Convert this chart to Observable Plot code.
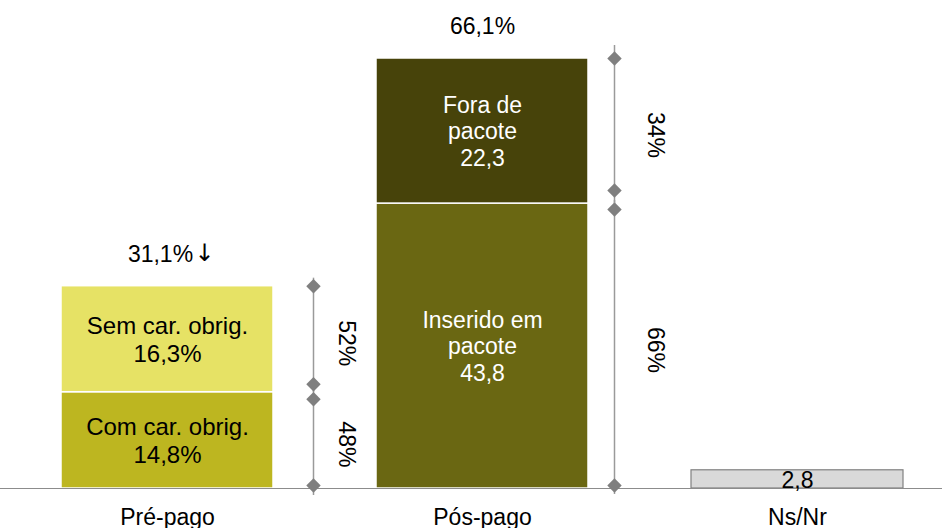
<!DOCTYPE html>
<html>
<head>
<meta charset="utf-8">
<script src="https://cdn.jsdelivr.net/npm/d3@7"></script>
<script src="https://cdn.jsdelivr.net/npm/@observablehq/plot@0.6"></script>
<style>
  html, body { margin: 0; padding: 0; background: #fff; }
  #chart { width: 942px; height: 528px; }
</style>
</head>
<body>
<div id="chart"></div>
<script>
// Plan types, stacked shares (%)
const categories = ["Pré-pago", "Pós-pago", "Ns/Nr"];

const segmentNames = ["Com car. obrig.", "Sem car. obrig.", "Inserido em pacote", "Fora de pacote", "Ns/Nr"];
const segmentCategory = ["Pré-pago", "Pré-pago", "Pós-pago", "Pós-pago", "Ns/Nr"];
const segmentValues = [14.8, 16.3, 43.8, 22.3, 2.8];
const segmentLabels = ["Com car. obrig.\n14,8%", "Sem car. obrig.\n16,3%", "Inserido em\npacote\n43,8", "Fora de\npacote\n22,3", "2,8"];
const segmentColors = ["#bdb620", "#e6e265", "#6a6712", "#47430a", "#d9d9d9"];
const segmentTextColors = ["#000", "#000", "#fff", "#fff", "#000"];

// Share of each segment within its plan type
const shareLabels = ["48%", "52%", "66%", "34%", null];

const totalCategories = ["Pré-pago", "Pós-pago"];
const totalValues = [31.1, 66.1];
const totalLabels = ["31,1%", "66,1%"];
const totalTrends = ["↓", ""];

// Build stacked rows (y1, y2) per category
const offsets = new Map();
const rows = segmentNames.map((name, i) => {
  const cat = segmentCategory[i];
  const y1 = offsets.get(cat) ?? 0;
  const y2 = y1 + segmentValues[i];
  offsets.set(cat, y2);
  return {
    name, category: cat, value: segmentValues[i], y1, y2, mid: (y1 + y2) / 2,
    label: segmentLabels[i], color: segmentColors[i], textColor: segmentTextColors[i],
    share: shareLabels[i]
  };
});
const stackTop = offsets;
const totals = totalCategories.map((c, i) => ({category: c, value: totalValues[i], label: totalLabels[i], trend: totalTrends[i]}));

const font = "'Liberation Sans', Arial, Helvetica, sans-serif";
const fs = 23;

// Bracket beside each stacked bar: line offset, label offset, gaps at the inner joint
const bracketSpecs = [
  {cat: "Pré-pago", dxLine: 146, dxText: 179, gapAbove: 8, gapBelow: 7, labelDy: 4},
  {cat: "Pós-pago", dxLine: 132, dxText: 173, gapAbove: 13, gapBelow: 6, labelDy: 4}
];
const bracketMarks = bracketSpecs.flatMap(({cat, dxLine, dxText, gapAbove, gapBelow, labelDy}) => {
  const d = rows.filter(r => r.category === cat);
  return d.flatMap(r => {
    const isTop = r.y2 === stackTop.get(cat);
    const isBottom = r.y1 === 0;
    const topInset = isTop ? 0 : gapBelow;
    const bottomInset = isBottom ? 3 : gapAbove;
    return [
      Plot.ruleX([r], {x: "category", y1: "y1", y2: "y2", dx: dxLine, stroke: "#9a9a9a", strokeWidth: 1.5, insetTop: topInset, insetBottom: bottomInset}),
      Plot.dot([r], {x: "category", y: "y2", dx: dxLine, dy: topInset, symbol: "diamond2", r: 6.5, fill: "#7f7f7f", stroke: "none"}),
      Plot.dot([r], {x: "category", y: "y1", dx: dxLine, dy: -bottomInset, symbol: "diamond2", r: 6.5, fill: "#7f7f7f", stroke: "none"})
    ];
  }).concat([
    Plot.text(d, {x: "category", y: "mid", text: "share", dx: dxText, dy: labelDy, rotate: 90, fontSize: fs, fill: "#000", fontFamily: font})
  ]);
});

const chart = Plot.plot({
  width: 942,
  height: 528,
  marginTop: 0,
  marginRight: 0,
  marginBottom: 0,
  marginLeft: 0,
  style: {fontFamily: font, background: "#fff", overflow: "visible"},
  x: {domain: categories, range: [22, 942], paddingInner: 0.328, paddingOuter: 0.122, axis: null},
  y: {domain: [0, 66.1], range: [488, 58], axis: null},
  marks: [
    Plot.rectY(rows.filter(r => r.category !== "Ns/Nr"), {x: "category", y1: "y1", y2: "y2", fill: "color", stroke: "#fff", strokeWidth: 1.5}),
    Plot.rectY(rows.filter(r => r.category === "Ns/Nr"), {x: "category", y1: "y1", y2: "y2", fill: "color", stroke: "#808080", strokeWidth: 1.2}),
    Plot.ruleY([0], {stroke: "#8c8c8c", strokeWidth: 1.2}),
    Plot.text(rows, {x: "category", y: "mid", text: "label", fill: "textColor", fontSize: d => d.category === "Pré-pago" ? 24 : 23, lineHeight: 1.14, fontFamily: font}),
    // totals without a trend arrow sit centred; with one, number and arrow share the centre
    Plot.text(totals.filter(d => !d.trend), {x: "category", y: "value", text: "label", dy: -32, fontSize: fs, fill: "#000", fontFamily: font}),
    Plot.text(totals.filter(d => d.trend), {x: "category", y: "value", text: "label", dy: -32, dx: -7, fontSize: fs, fill: "#000", fontFamily: font}),
    Plot.text(totals.filter(d => d.trend), {x: "category", y: "value", text: "trend", dy: -33, dx: 37, fontSize: 24, fill: "#000", fontFamily: "'DejaVu Sans', sans-serif"}),
    ...bracketMarks,
    Plot.axisX({tickSize: 0, tickPadding: 20, fontSize: fs, fontFamily: font, color: "#000", label: null, anchor: "bottom", frameAnchor: "bottom", dy: -40})
  ]
});

document.getElementById("chart").appendChild(chart);
</script>
</body>
</html>
